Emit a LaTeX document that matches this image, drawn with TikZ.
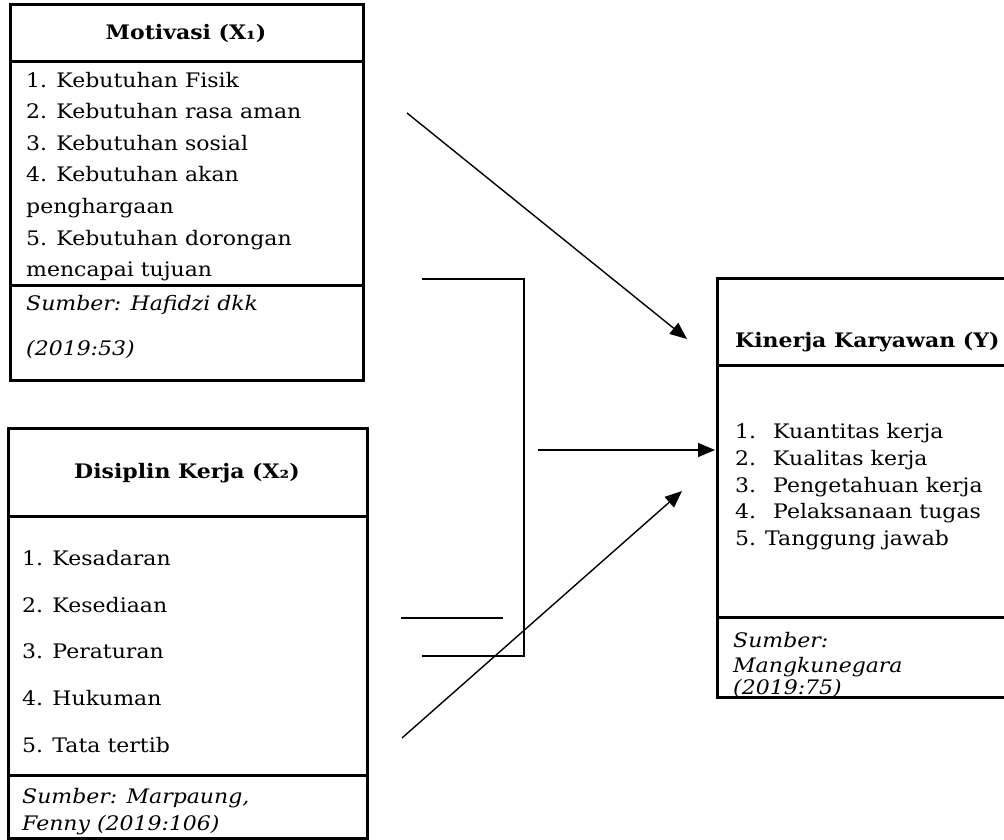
\documentclass[tikz,border=0pt]{standalone}
\usepackage{fontspec}
\setmainfont{DejaVu Serif}[FakeStretch=1.1]
\usetikzlibrary{arrows.meta}
\begin{document}
\begin{tikzpicture}[x=1pt,y=-1pt,
  boxline/.style={line width=3pt},
  conn/.style={line width=1.4pt},
  arr/.style={conn,-{Triangle[length=17pt,width=14pt]}},
  txt/.style={anchor=base west,inner sep=0pt,font=\fontsize{20}{20}\selectfont},
  itxt/.style={txt,font=\fontsize{20}{20}\selectfont\itshape},
  head/.style={anchor=center,inner sep=0pt,font=\fontsize{20}{20}\selectfont\bfseries}]
\useasboundingbox (0,0) rectangle (1004,840);
\begin{scope}
\clip (0,0) rectangle (1004,840);
% boxes
\draw[boxline] (10,5) rectangle (363,380);
\draw[boxline] (10,62) -- (363,62);
\draw[boxline] (10,285) -- (363,285);
\draw[boxline] (8,428) rectangle (367,838);
\draw[boxline] (8,516) -- (367,516);
\draw[boxline] (8,775) -- (367,775);
\draw[boxline] (717,278) rectangle (1020,697);
\draw[boxline] (717,365) -- (1020,365);
\draw[boxline] (717,617) -- (1020,617);
\end{scope}
% box 1 texts
\node[head] (h1) at (186,33) {Motivasi (X₁)};
\node[txt] (m1) at (26,88) {1. Kebutuhan Fisik};
\node[txt] (m2) at (26,119) {2. Kebutuhan rasa aman};
\node[txt] (m3) at (26,151) {3. Kebutuhan sosial};
\node[txt] (m4) at (26,182) {4. Kebutuhan akan};
\node[txt] (m4b) at (26,213) {penghargaan};
\node[txt] (m5) at (26,245) {5. Kebutuhan dorongan};
\node[txt] (m5b) at (26,276) {mencapai tujuan};
\node[itxt] (s1) at (26,310) {Sumber: Hafidzi dkk};
\node[itxt] (s1b) at (26,355) {(2019:53)};
% box 2 texts
\node[head] (h2) at (187,473) {Disiplin Kerja (X₂)};
\node[txt] (d1) at (22,565) {1. Kesadaran};
\node[txt] (d2) at (22,612) {2. Kesediaan};
\node[txt] (d3) at (22,658) {3. Peraturan};
\node[txt] (d4) at (22,705) {4. Hukuman};
\node[txt] (d5) at (22,752) {5. Tata tertib};
\node[itxt] (s2) at (22,803) {Sumber: Marpaung,};
\node[itxt] (s2b) at (22,830) {Fenny (2019:106)};
% box 3 texts
\node[head,anchor=base west] (h3) at (735,347) {Kinerja Karyawan (Y)};
\node[txt] (k1n) at (735,438) {1.};
\node[txt] (k1) at (773,438) {Kuantitas kerja};
\node[txt] (k2n) at (735,465) {2.};
\node[txt] (k2) at (773,465) {Kualitas kerja};
\node[txt] (k3n) at (735,492) {3.};
\node[txt] (k3) at (773,492) {Pengetahuan kerja};
\node[txt] (k4n) at (735,518) {4.};
\node[txt] (k4) at (773,518) {Pelaksanaan tugas};
\node[txt] (k5n) at (735,545) {5.};
\node[txt] (k5) at (765,545) {Tanggung jawab};
\node[itxt] (s3) at (733,647) {Sumber:};
\node[itxt] (s3b) at (733,672) {Mangkunegara};
\node[itxt] (s3c) at (733,694) {(2019:75)};
% connectors
\coordinate (a1s) at (407,113);
\coordinate (a1e) at (687,339);
\coordinate (bt) at (422,279);
\coordinate (bc) at (524,279);
\coordinate (bd) at (524,656);
\coordinate (bb) at (422,656);
\coordinate (ls) at (401,618);
\coordinate (le) at (503,618);
\coordinate (hs) at (538,450);
\coordinate (he) at (715,450);
\coordinate (a2s) at (402,738);
\coordinate (a2e) at (682,491);
\draw[arr] (a1s) -- (a1e);
\draw[conn] (bt) -- (bc) -- (bd) -- (bb);
\draw[conn] (ls) -- (le);
\draw[arr] (hs) -- (he);
\draw[arr] (a2s) -- (a2e);
\end{tikzpicture}
\end{document}
